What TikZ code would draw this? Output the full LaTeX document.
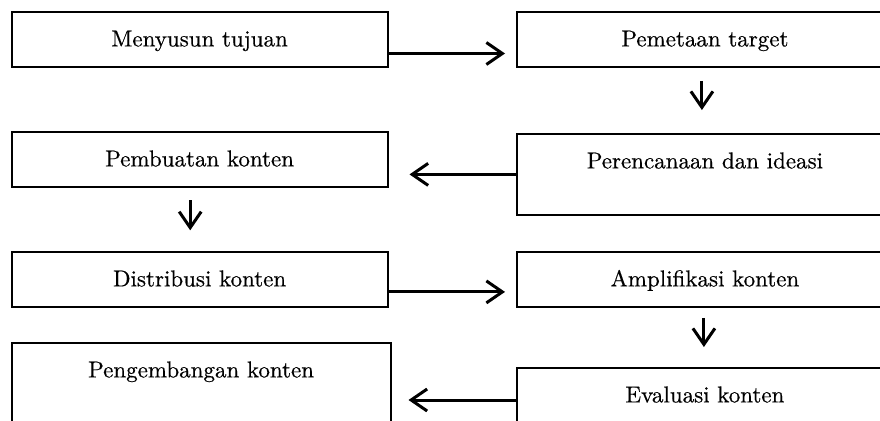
\documentclass[tikz,border=0pt]{standalone}
\usepackage{fontspec}
\setmainfont{lmroman10-regular}[Extension=.otf,FakeBold=0.5]
\usetikzlibrary{arrows.meta}

\begin{document}
\begin{tikzpicture}[x=1pt,y=-1pt,
  box/.style={draw,line width=1.8pt,inner sep=0pt,minimum width=376pt,anchor=north west,
    text height=34.5pt,text depth=20.5pt,font=\fontsize{23}{27}\selectfont},
  arr/.style={-{Straight Barb[length=16pt,width=22pt,line width=3pt]},line width=3pt}]

\useasboundingbox (0,0) rectangle (880,420);
\clip (0,0) rectangle (880,420);

% left column
\node[box] (tujuan) at (10.7,11) {Menyusun tujuan};
\node[box] (buat) at (10.7,131) {Pembuatan konten};
\node[box] (distribusi) at (10.7,251) {Distribusi konten};
\node[box,minimum width=379pt,text depth=120pt] (kembang) at (10.7,342) {Pengembangan konten};

% right column
\node[box] (target) at (516,11) {Pemetaan target};
\node[box,text depth=46.5pt] (rencana) at (516,133) {Perencanaan dan ideasi};
\node[box] (amplifikasi) at (516,251) {Amplifikasi konten};
\node[box,text depth=120pt] (evaluasi) at (516,367) {Evaluasi konten};

\draw[arr,shorten >=11pt] ([yshift=-14.1pt]tujuan.east) -- ([yshift=-14.1pt]tujuan.east -| target.west);
\draw[arr,shorten <=13pt,shorten >=23pt] ([xshift=-3pt]target.south) -- ([xshift=-3pt]target.south |- rencana.north);
\draw[arr,shorten >=21pt] (rencana.west) -- (rencana.west -| buat.east);
\draw[arr,shorten <=12.6pt,shorten >=20.7pt] ([xshift=-9.4pt]buat.south) -- ([xshift=-9.4pt]buat.south |- distribusi.north);
\draw[arr,shorten >=11pt] ([yshift=-12.5pt]distribusi.east) -- ([yshift=-12.5pt]distribusi.east -| amplifikasi.west);
\draw[arr,shorten <=10pt,shorten >=20pt] ([xshift=-1pt]amplifikasi.south) -- ([xshift=-1pt]amplifikasi.south |- evaluasi.north);
\draw[arr,shorten >=17pt] ([yshift=-33pt]evaluasi.north west) -- ([yshift=-33pt]evaluasi.north west -| kembang.east);

\end{tikzpicture}
\end{document}
